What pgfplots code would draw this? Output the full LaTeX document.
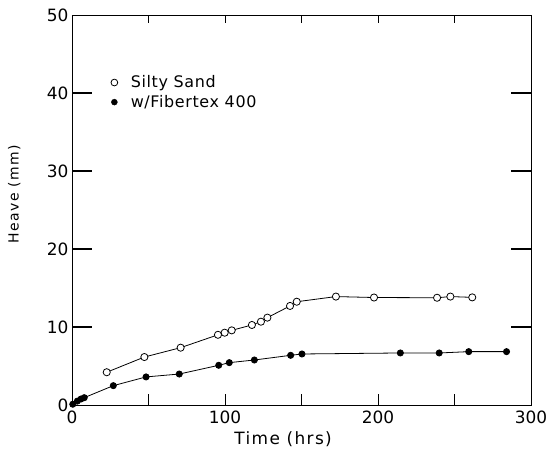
\documentclass[border=0pt]{standalone}
\usepackage{pgfplots}
\pgfplotsset{compat=1.18}
\usepackage{fontspec}
\setmainfont{DejaVu Sans}

% Frost heave against time for the two soil columns
\pgfplotstableread{
t    heave
22.7 4.2
47.3 6.15
71.0 7.35
95.4 9.0
99.8 9.27
104.4 9.57
117.6 10.26
123.5 10.68
127.7 11.2
142.5 12.7
146.9 13.24
172.5 13.9
197.4 13.78
238.6 13.75
247.3 13.9
261.6 13.8
}\siltysand

\pgfplotstableread{
t    heave
0.5  0.1
3.5  0.5
5.9  0.77
8.0  0.94
27.0 2.48
48.4 3.6
70.1 3.97
95.9 5.09
102.8 5.43
119.2 5.77
142.9 6.37
150.3 6.54
214.6 6.67
240.0 6.67
259.3 6.84
284.0 6.84
}\fibertex

\begin{document}
\begin{tikzpicture}
\begin{axis}[
  at={(0,0)}, anchor=south west,
  scale only axis,
  width=459bp, height=390bp,
  xmin=0, xmax=300, ymin=0, ymax=50,
  xtick={0,100,200,300},
  ytick={0,10,...,50},
  axis line style={line width=1pt},
  /pgf/number format/assume math mode=true,
  tick label style={font=\fontsize{17}{19}\selectfont},
  xticklabel style={yshift=-2bp},
  xlabel={Time (hrs)},
  ylabel={Heave (mm)},
  xlabel style={font=\fontsize{17}{19}\selectfont\addfontfeatures{LetterSpace=8},
    at={(axis description cs:0.46,0)}, anchor=north, yshift=-23bp},
  ylabel style={font=\fontsize{14}{16}\selectfont\addfontfeatures{LetterSpace=10},
    at={(axis description cs:0,0.541)}, anchor=south, yshift=48bp},
  legend style={draw=none, fill=none, at={(0.078,0.855)}, anchor=north west,
    font=\fontsize{16}{18}\selectfont\addfontfeatures{LetterSpace=4}, row sep=2bp,
    /tikz/every odd column/.append style={column sep=11bp}},
  legend cell align=left,
  clip=false,
]
\addlegendimage{only marks, mark=o, mark size=3.4pt, black, line width=0.8pt}
\addlegendentry{Silty Sand}
\addlegendimage{only marks, mark=*, mark size=3.0pt, black}
\addlegendentry{w/Fibertex 400}

\addplot[forget plot, black, line width=0.8pt, mark=*, mark size=3.1pt]
  table[x=t, y=heave] {\fibertex};
\addplot[forget plot, black, line width=0.8pt, mark=*, mark size=3.6pt,
  mark options={fill=white, line width=0.8pt}]
  table[x=t, y=heave] {\siltysand};
\end{axis}
% inward tick marks on the frame (459bp x 390bp): every 10 mm and every 50 hrs
\foreach \k in {1,2,3,4} {
  \draw[line width=1.1pt] (0.5bp,\k*78bp) -- (20bp,\k*78bp);
  \draw[line width=1.1pt] (458.5bp,\k*78bp) -- (439bp,\k*78bp);
}
\foreach \k in {1,2,3,4,5} {
  \draw[line width=1pt] (\k*76.5bp,0.5bp) -- (\k*76.5bp,11bp);
  \draw[line width=1pt] (\k*76.5bp,389.5bp) -- (\k*76.5bp,382bp);
}
\pgfresetboundingbox
\path (-72bp,-44bp) rectangle (477bp,405bp);
\end{tikzpicture}
\end{document}
